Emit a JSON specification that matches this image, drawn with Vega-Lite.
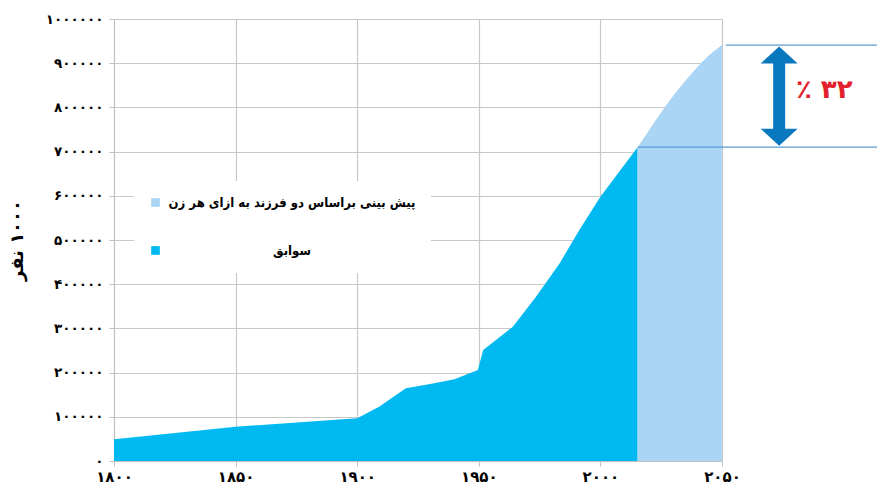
{
  "$schema": "https://vega.github.io/schema/vega-lite/v6.json",
  "width": 608,
  "height": 442,
  "autosize": {"type": "none"},
  "padding": {"left": 114, "top": 19, "right": 155, "bottom": 29},
  "background": "white",
  "config": {
    "view": {"stroke": null},
    "font": "DejaVu Sans",
    "axis": {
      "gridColor": "#c8c8c8",
      "gridWidth": 1.2,
      "domainColor": "#c0c0c0",
      "tickColor": "#c0c0c0",
      "labelColor": "#000000",
      "labelFont": "DejaVu Sans",
      "labelFontWeight": "bold",
      "labelFlush": false,
      "labelOverlap": false,
      "titleFont": "DejaVu Sans"
    }
  },
  "datasets": {
    "pop": [
      {"year": 1800, "value": 49000, "series": "سوابق"},
      {"year": 1850, "value": 77600, "series": "سوابق"},
      {"year": 1900, "value": 96600, "series": "سوابق"},
      {"year": 1909, "value": 123000, "series": "سوابق"},
      {"year": 1920, "value": 164500, "series": "سوابق"},
      {"year": 1930, "value": 174000, "series": "سوابق"},
      {"year": 1940, "value": 184800, "series": "سوابق"},
      {"year": 1949.6, "value": 206000, "series": "سوابق"},
      {"year": 1951.8, "value": 251000, "series": "سوابق"},
      {"year": 1964, "value": 304000, "series": "سوابق"},
      {"year": 1973.6, "value": 372000, "series": "سوابق"},
      {"year": 1983.2, "value": 447000, "series": "سوابق"},
      {"year": 1991.4, "value": 523000, "series": "سوابق"},
      {"year": 2000, "value": 598000, "series": "سوابق"},
      {"year": 2007.8, "value": 655000, "series": "سوابق"},
      {"year": 2015.3, "value": 710000, "series": "سوابق"},
      {"year": 2015.3, "value": 710000, "series": "پیش بینی براساس دو فرزند به ازای هر زن"},
      {"year": 2021.5, "value": 761000, "series": "پیش بینی براساس دو فرزند به ازای هر زن"},
      {"year": 2028.4, "value": 815000, "series": "پیش بینی براساس دو فرزند به ازای هر زن"},
      {"year": 2035.2, "value": 862000, "series": "پیش بینی براساس دو فرزند به ازای هر زن"},
      {"year": 2042, "value": 904000, "series": "پیش بینی براساس دو فرزند به ازای هر زن"},
      {"year": 2050, "value": 941000, "series": "پیش بینی براساس دو فرزند به ازای هر زن"}
    ],
    "lines": [
      {"from": 2051.5, "to": 2116, "value": 941000},
      {"from": 2015.3, "to": 2116, "value": 710000}
    ],
    "shaft": [
      {"year": 2073.5, "top": 905000, "bottom": 745000}
    ],
    "heads": [
      {"part": "top", "year": 2073.5, "value": 918500},
      {"part": "bottom", "year": 2073.5, "value": 732600}
    ],
    "note": [
      {"year": 2080.4, "value": 839000, "label": "٪ ۳۲"}
    ]
  },
  "encoding": {
    "x": {
      "field": "year", "type": "quantitative",
      "scale": {"domain": [1800, 2050], "nice": false, "zero": false},
      "axis": {
        "title": null,
        "values": [1800, 1850, 1900, 1950, 2000, 2050],
        "format": "d",
        "labelFontSize": 15,
        "tickSize": 5,
        "labelPadding": 3,
        "labelExpr": "replace(replace(replace(replace(replace(replace(replace(replace(replace(replace(datum.label,regexp('0','g'),'۰'),regexp('1','g'),'۱'),regexp('2','g'),'۲'),regexp('3','g'),'۳'),regexp('4','g'),'۴'),regexp('5','g'),'۵'),regexp('6','g'),'۶'),regexp('7','g'),'۷'),regexp('8','g'),'۸'),regexp('9','g'),'۹')"
      }
    },
    "y": {
      "field": "value", "type": "quantitative", "stack": null,
      "scale": {"domain": [0, 1000000], "nice": false},
      "axis": {
        "title": "نفر‎ ۱۰۰۰",
        "titleFontSize": 18,
        "titleFontWeight": "bold",
        "titleColor": "#000000",
        "titleX": -97,
        "titleY": 221,
        "titleAlign": "center",
        "titleBaseline": "middle",
        "titleAngle": -90,
        "values": [0, 100000, 200000, 300000, 400000, 500000, 600000, 700000, 800000, 900000, 1000000],
        "format": "d",
        "labelFontSize": 13.5,
        "tickSize": 5,
        "labelPadding": 6,
        "labelExpr": "replace(replace(replace(replace(replace(replace(replace(replace(replace(replace(datum.label,regexp('0','g'),'۰'),regexp('1','g'),'۱'),regexp('2','g'),'۲'),regexp('3','g'),'۳'),regexp('4','g'),'۴'),regexp('5','g'),'۵'),regexp('6','g'),'۶'),regexp('7','g'),'۷'),regexp('8','g'),'۸'),regexp('9','g'),'۹')"
      }
    },
    "color": {
      "field": "series", "type": "nominal",
      "scale": {
        "domain": ["پیش بینی براساس دو فرزند به ازای هر زن", "سوابق"],
        "range": ["#abd5f4", "#00b9f1"]
      },
      "legend": {
        "title": null,
        "orient": "none",
        "legendX": 20,
        "legendY": 162,
        "fillColor": "white",
        "padding": 15,
        "symbolType": "square",
        "symbolSize": 75,
        "symbolStrokeWidth": 0,
        "symbolOpacity": 1,
        "labelAlign": "center",
        "labelOffset": 130,
        "labelFont": "DejaVu Sans Condensed",
        "labelFontSize": 13,
        "labelFontWeight": "bold",
        "labelColor": "#000000",
        "labelLimit": 400,
        "rowPadding": 34
      }
    }
  },
  "layer": [
    {
      "data": {"name": "pop"},
      "transform": [{"filter": "datum.series == 'سوابق'"}],
      "mark": {"type": "area", "opacity": 1, "interpolate": "linear"}
    },
    {
      "data": {"name": "pop"},
      "transform": [{"filter": "datum.series != 'سوابق'"}],
      "mark": {"type": "area", "opacity": 1, "interpolate": "monotone"}
    },
    {
      "data": {"name": "lines"},
      "mark": {"type": "rule", "color": "#5b9bd5", "strokeWidth": 1.2},
      "encoding": {
        "x": {"field": "from", "type": "quantitative"},
        "x2": {"field": "to"},
        "y": {"field": "value", "type": "quantitative"},
        "color": null
      }
    },
    {
      "data": {"name": "shaft"},
      "mark": {"type": "rule", "color": "#0a78be", "strokeWidth": 12, "strokeCap": "butt"},
      "encoding": {
        "x": {"field": "year", "type": "quantitative"},
        "y": {"field": "top", "type": "quantitative"},
        "y2": {"field": "bottom"},
        "color": null
      }
    },
    {
      "data": {"name": "heads"},
      "transform": [{"filter": "datum.part == 'top'"}],
      "mark": {"type": "point", "filled": true, "opacity": 1, "color": "#0a78be", "size": 1369, "shape": "M0,-0.46L1,0.46L-1,0.46Z"},
      "encoding": {
        "x": {"field": "year", "type": "quantitative"},
        "y": {"field": "value", "type": "quantitative"},
        "color": null
      }
    },
    {
      "data": {"name": "heads"},
      "transform": [{"filter": "datum.part == 'bottom'"}],
      "mark": {"type": "point", "filled": true, "opacity": 1, "color": "#0a78be", "size": 1369, "shape": "M0,0.46L1,-0.46L-1,-0.46Z"},
      "encoding": {
        "x": {"field": "year", "type": "quantitative"},
        "y": {"field": "value", "type": "quantitative"},
        "color": null
      }
    },
    {
      "data": {"name": "note"},
      "mark": {"type": "text", "align": "left", "baseline": "middle", "fontSize": 26, "fontWeight": "bold", "color": "#e2212b", "font": "DejaVu Sans"},
      "encoding": {
        "x": {"field": "year", "type": "quantitative"},
        "y": {"field": "value", "type": "quantitative"},
        "text": {"field": "label"},
        "color": null
      }
    }
  ]
}
